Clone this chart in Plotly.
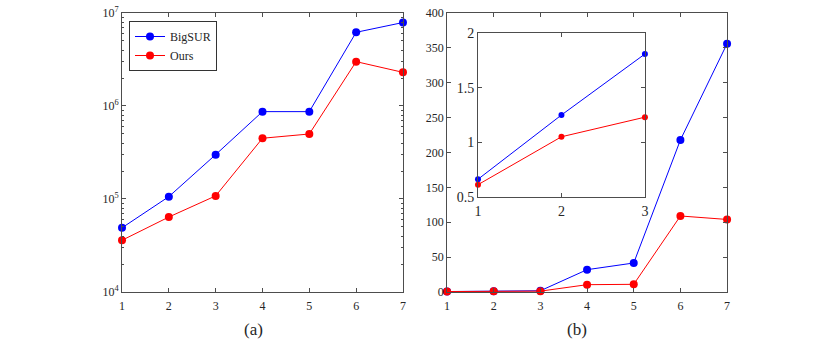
import plotly.graph_objects as go

# data
steps = [1, 2, 3, 4, 5, 6, 7]
bigsur_a = [4.9e4, 1.06e5, 3.0e5, 8.7e5, 8.7e5, 6.2e6, 7.9e6]
ours_a = [3.6e4, 6.4e4, 1.08e5, 4.5e5, 5.0e5, 3.0e6, 2.3e6]
bigsur_b = [0.66, 1.25, 1.81, 32, 41.6, 218, 356]
ours_b = [0.61, 1.05, 1.23, 10.5, 11, 109, 104]
inset_steps = steps[:3]

BLUE = "#0000ff"
RED = "#ff0000"
FONT = "Liberation Serif"
AX = "#4d4d4d"

fig = go.Figure()

def add_pair(x, y1, y2, xa, ya, size, legend):
    fig.add_trace(go.Scatter(x=x, y=y1, mode="lines+markers", name="BigSUR",
                             line=dict(color=BLUE, width=1), marker=dict(color=BLUE, size=size),
                             xaxis=xa, yaxis=ya, showlegend=legend, cliponaxis=False))
    fig.add_trace(go.Scatter(x=x, y=y2, mode="lines+markers", name="Ours",
                             line=dict(color=RED, width=1), marker=dict(color=RED, size=size),
                             xaxis=xa, yaxis=ya, showlegend=legend, cliponaxis=False))

add_pair(steps, bigsur_a, ours_a, "x", "y", 8, True)
add_pair(steps, bigsur_b, ours_b, "x2", "y2", 8, False)
add_pair(inset_steps, bigsur_b[:3], ours_b[:3], "x3", "y3", 6, False)

def axis_style(size):
    return dict(showline=True, linecolor=AX, linewidth=1, mirror="ticks", ticks="inside",
                ticklen=4, tickcolor=AX, showgrid=False, zeroline=False, automargin=False,
                tickfont=dict(family=FONT, size=size, color="#262626"))

minor_vals = [m * 10 ** e for e in range(4, 7) for m in range(2, 10)]

fig.update_layout(
    width=830, height=342,
    margin=dict(l=0, r=0, t=0, b=0),
    paper_bgcolor="white", plot_bgcolor="white",
    font=dict(family=FONT, color="#262626"),
    xaxis=dict(domain=[0.147, 0.4855], range=[1, 7], tickvals=steps, anchor="y",
               ticklabelstandoff=3, **axis_style(12)),
    yaxis=dict(domain=[0.1462, 0.962], type="log", range=[4, 7], anchor="x",
               tickvals=[1e4, 1e5, 1e6, 1e7],
               ticktext=["10<sup>4</sup>", "10<sup>5</sup>", "10<sup>6</sup>", "10<sup>7</sup>"],
               minor=dict(tickmode="array", tickvals=minor_vals, ticks="inside", ticklen=2, tickcolor=AX),
               **axis_style(12)),
    xaxis2=dict(domain=[0.5386, 0.876], range=[1, 7], tickvals=steps, anchor="y2",
                ticklabelstandoff=3, **axis_style(12)),
    yaxis2=dict(domain=[0.1462, 0.962], range=[0, 400], dtick=50, anchor="x2", **axis_style(12)),
    xaxis3=dict(domain=[0.5759, 0.777], range=[1, 3], tickvals=inset_steps, anchor="y3",
                ticklabelstandoff=2, **axis_style(14)),
    yaxis3=dict(domain=[0.4249, 0.9026], range=[0.5, 2], tickvals=[0.5, 1, 1.5, 2], anchor="x3",
                **axis_style(14)),
    legend=dict(x=129 / 830, y=1 - 21 / 342, xanchor="left", yanchor="top", bgcolor="white",
                bordercolor="#333", borderwidth=1, font=dict(family=FONT, size=12),
                itemwidth=30, tracegroupgap=0),
    showlegend=True,
)

for label, xpos in (("(a)", 253 / 830), ("(b)", 577 / 830)):
    fig.add_annotation(text=label, x=xpos, y=1 - 329 / 342, xref="paper", yref="paper",
                       xanchor="center", yanchor="middle", showarrow=False,
                       font=dict(family=FONT, size=17, color="#262626"))

# drop the browser's default 8px body margin so the figure sits at the page origin
fig.write_html("out.html", config={"displayModeBar": False},
               post_script="document.body.style.margin='0px';")
